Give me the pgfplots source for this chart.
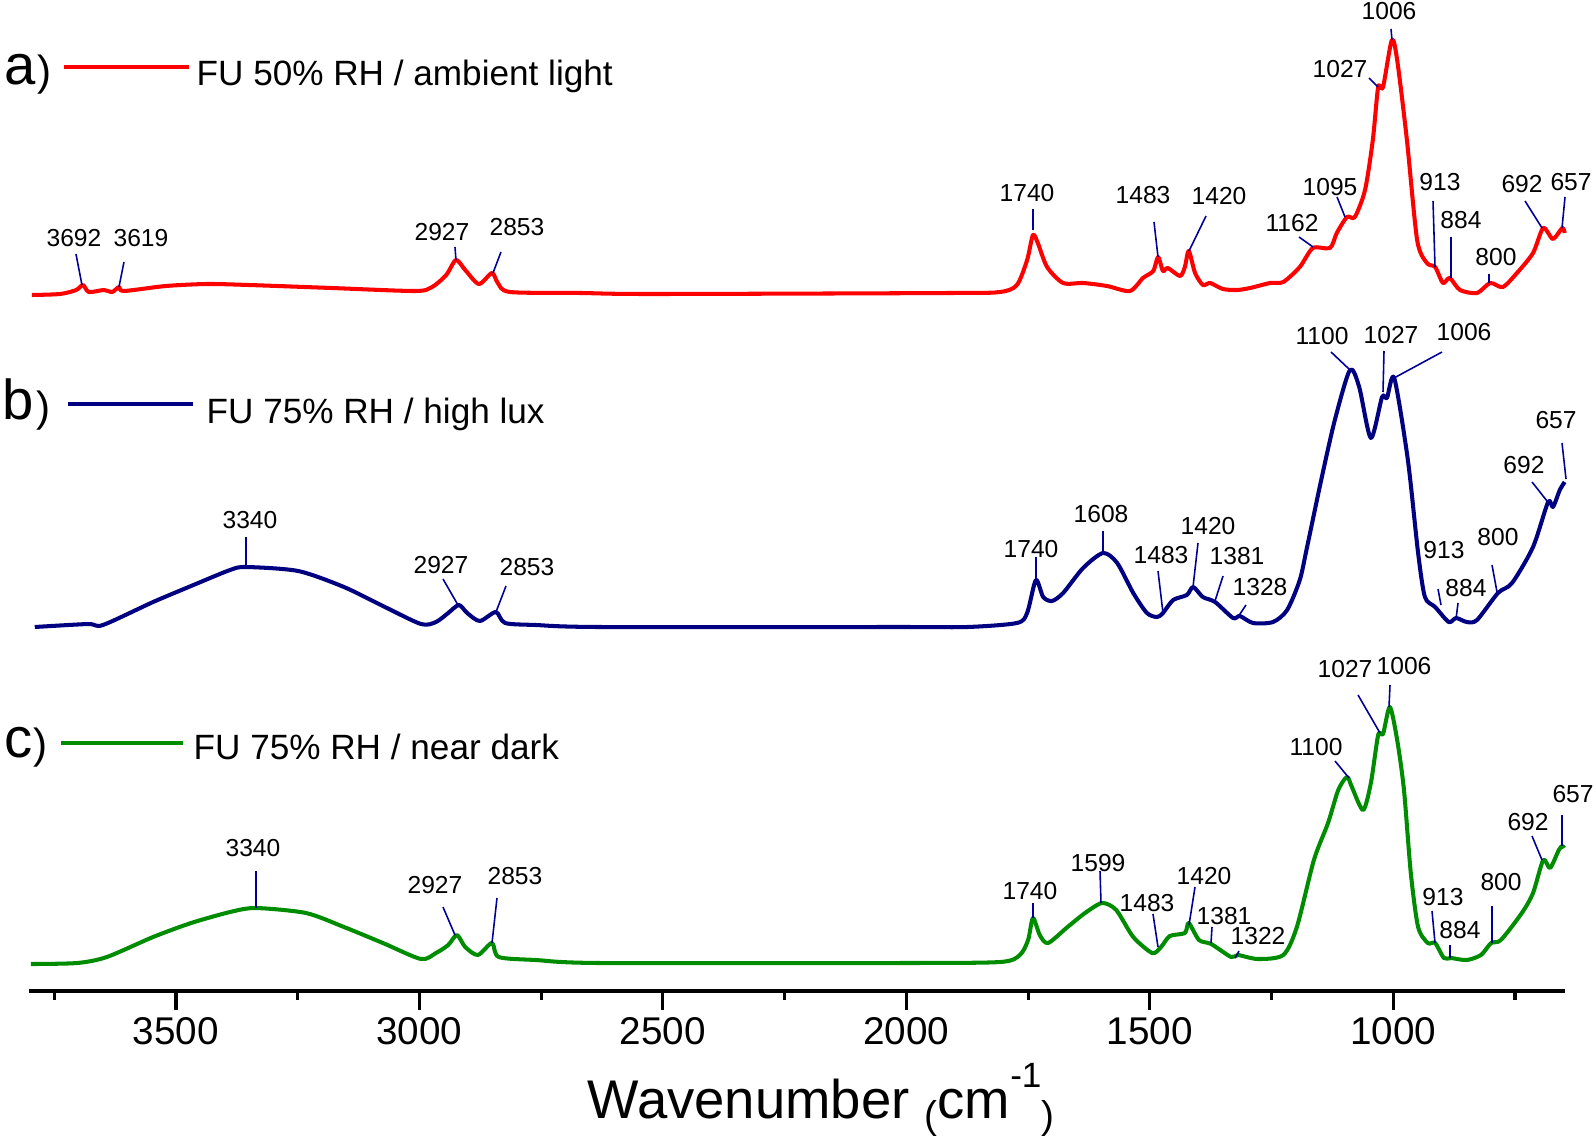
\documentclass[border=0pt]{standalone}
\usepackage{fontspec}
\setmainfont{Liberation Sans}
\usepackage{pgfplots}
\pgfplotsset{compat=1.18}
\definecolor{cred}{RGB}{255,0,0}
\definecolor{cblue}{RGB}{0,0,128}
\definecolor{cgreen}{RGB}{0,140,0}
\definecolor{cleader}{RGB}{0,0,150}
% pixel position (x,y) of the 1594x1136 reference -> axis coordinates
\newcommand{\lab}[3]{\node[font=\fontsize{7}{8}\selectfont, inner sep=0pt] at (axis cs:{3500-(#1-176)*2.0538},{991-#2}) {#3};}
\newcommand{\ldr}[4]{\draw[cleader, line width=0.45pt] (axis cs:{3500-(#1-176)*2.0538},{991-#2}) -- (axis cs:{3500-(#3-176)*2.0538},{991-#4});}
\newcommand{\txt}[4]{\node[anchor=base west, inner sep=0pt, font=#3] at (axis cs:{3500-(#1-176)*2.0538},{991-#2}) {#4};}
\newcommand{\leg}[4]{\draw[#4, line width=1.2pt] (axis cs:{3500-(#1-176)*2.0538},{991-#3}) -- (axis cs:{3500-(#2-176)*2.0538},{991-#3});}

\pgfplotstableread{
w v
3796 696
3738 697
3705 701
3691 706
3679 699
3648 701
3631 699
3617 704
3607 700
3521 705
3436 707
3350 706
3180 703
3009 700
2974 704
2945 716
2925 731
2906 721
2878 707
2851 718
2839 708
2814 699
2668 698
2524 697
1910 698
1808 699
1773 706
1752 731
1740 756
1730 748
1711 724
1678 708
1637 708
1588 705
1541 700
1514 713
1493 720
1483 734
1473 720
1463 723
1438 715
1428 724
1420 740
1407 718
1391 706
1376 708
1350 702
1321 701
1294 703
1253 708
1226 709
1192 724
1165 743
1130 743
1116 758
1095 774
1079 774
1058 801
1042 851
1031 904
1021 904
1003 951
992 931
972 851
951 751
931 728
914 724
898 708
884 713
863 701
828 698
801 708
775 704
746 718
713 738
692 763
672 752
653 763
648 758
}\tabA

\pgfplotstableread{
w v
3790 364
3681 367
3650 366
3547 389
3469 405
3389 421
3356 424
3249 420
3155 404
3075 385
2997 367
2966 369
2941 378
2919 386
2902 378
2876 370
2843 379
2824 368
2761 366
2629 364
2013 364
1875 364
1773 368
1752 378
1734 411
1719 394
1701 390
1678 398
1637 423
1596 438
1567 428
1534 398
1506 378
1485 374
1473 378
1452 391
1424 396
1411 404
1391 394
1366 389
1329 373
1315 375
1288 368
1247 369
1218 381
1192 411
1177 444
1148 511
1120 571
1089 621
1070 604
1046 553
1023 594
1013 593
998 613
970 531
949 438
935 394
914 384
886 369
871 373
849 369
828 371
785 398
756 408
713 444
682 489
672 484
658 501
648 509
}\tabB

\pgfplotstableread{
w v
3798 27
3703 28
3642 34
3547 54
3469 68
3389 79
3336 83
3233 78
3155 64
3075 48
2997 32
2966 38
2941 46
2923 56
2906 44
2880 36
2851 48
2837 34
2761 31
2629 28
2013 28
1808 29
1767 36
1750 51
1740 73
1726 56
1709 48
1669 64
1633 78
1598 88
1569 81
1534 54
1495 38
1477 44
1459 55
1428 58
1420 68
1399 51
1374 47
1333 34
1319 36
1278 32
1226 36
1198 64
1163 131
1134 168
1113 201
1095 214
1085 204
1062 181
1046 208
1031 256
1021 257
1007 284
992 251
978 201
964 118
949 64
929 48
914 48
896 33
881 33
849 31
820 36
799 48
779 51
736 78
713 98
692 131
678 123
660 141
653 145
649 143
}\tabC

\begin{document}
\begin{tikzpicture}
\begin{axis}[
  scale only axis, width=153.6mm, height=99.1mm,
  xmin=647.3, xmax=3801.9, ymin=0, ymax=991,
  x dir=reverse,
  axis y line=none, axis x line*=bottom,
  x axis line style={-, line width=1.2pt, black},
  xtick={1000,1500,...,3500}, minor xtick={750,1250,...,3750},
  tick align=outside, major tick length=1.9mm, minor tick length=0.9mm,
  every tick/.style={black, line width=0.9pt},
  xticklabel style={font=\fontsize{11}{13}\selectfont, yshift=0.5mm, /pgf/number format/set thousands separator={}},
  /pgf/number format/assume math mode=true,
  clip=false,
]
\addplot[cred, line width=1.15pt, line join=round, smooth, tension=0.45] table[x=w,y=v] {\tabA};
\addplot[cblue, line width=1.15pt, line join=round, smooth, tension=0.45] table[x=w,y=v] {\tabB};
\addplot[cgreen, line width=1.15pt, line join=round, smooth, tension=0.45] table[x=w,y=v] {\tabC};

% legends
\txt{4}{85}{\fontsize{16}{18}\selectfont}{a}
\txt{37}{86}{\fontsize{12}{14}\selectfont}{)}
\leg{64}{189}{67}{cred}
\txt{196}{86}{\fontsize{10}{12}\selectfont}{FU 50\% RH / ambient light}
\txt{2}{419}{\fontsize{16}{18}\selectfont}{b}
\txt{36}{421}{\fontsize{12}{14}\selectfont}{)}
\leg{68}{193}{404}{cblue}
\txt{206}{423}{\fontsize{10}{12}\selectfont}{FU 75\% RH / high lux}
\txt{4}{757}{\fontsize{16}{18}\selectfont}{c}
\txt{33}{758}{\fontsize{12}{14}\selectfont}{)}
\leg{61}{183}{743}{cgreen}
\txt{193}{759}{\fontsize{10}{12}\selectfont}{FU 75\% RH / near dark}

% x label
\txt{587}{1118}{\fontsize{15.5}{18}\selectfont}{Wavenumber \raisebox{-0.35ex}{\fontsize{11}{12}\selectfont(}cm\raisebox{1.05ex}{\fontsize{10}{12}\selectfont -1}\raisebox{-0.35ex}{\fontsize{11}{12}\selectfont)}}

% peak labels a
\lab{74}{238}{3692} \ldr{76}{254}{82}{285}
\lab{141}{238}{3619} \ldr{124}{262}{119}{287}
\lab{442}{232}{2927} \ldr{455}{247}{456}{260}
\lab{517}{227}{2853} \ldr{501}{252}{493}{273}
\lab{1027}{193}{1740} \ldr{1033}{209}{1033}{230}
\lab{1143}{195}{1483} \ldr{1154}{222}{1158}{257}
\lab{1219}{196}{1420} \ldr{1206}{216}{1189}{251}
\lab{1389}{11}{1006} \ldr{1391}{29}{1392}{40}
\lab{1340}{69}{1027} \ldr{1369}{78}{1378}{87}
\lab{1330}{187}{1095} \ldr{1337}{197}{1345}{217}
\lab{1292}{223}{1162} \ldr{1299}{237}{1313}{247}
\lab{1440}{182}{913} \ldr{1433}{201}{1435}{267}
\lab{1461}{220}{884} \ldr{1451}{237}{1451}{278}
\lab{1496}{257}{800} \ldr{1489}{274}{1489}{283}
\lab{1522}{184}{692} \ldr{1525}{201}{1542}{228}
\lab{1571}{182}{657} \ldr{1565}{197}{1562}{228}
% peak labels b
\lab{250}{520}{3340} \ldr{246}{537}{246}{567}
\lab{441}{565}{2927} \ldr{443}{579}{458}{605}
\lab{527}{567}{2853} \ldr{506}{586}{496}{612}
\lab{1031}{549}{1740} \ldr{1036}{557}{1036}{580}
\lab{1101}{514}{1608} \ldr{1103}{531}{1103}{553}
\lab{1161}{555}{1483} \ldr{1158}{571}{1163}{613}
\lab{1208}{526}{1420} \ldr{1198}{543}{1193}{587}
\lab{1237}{556}{1381} \ldr{1223}{576}{1215}{601}
\lab{1260}{587}{1328} \ldr{1246}{605}{1238}{617}
\lab{1322}{336}{1100} \ldr{1331}{352}{1349}{369}
\lab{1391}{335}{1027} \ldr{1384}{351}{1383}{392}
\lab{1464}{332}{1006} \ldr{1442}{352}{1394}{378}
\lab{1444}{550}{913} \ldr{1438}{589}{1441}{605}
\lab{1466}{588}{884} \ldr{1458}{603}{1456}{619}
\lab{1498}{537}{800} \ldr{1492}{565}{1497}{592}
\lab{1524}{465}{692} \ldr{1532}{482}{1547}{501}
\lab{1556}{420}{657} \ldr{1562}{443}{1566}{479}
% peak labels c
\lab{253}{848}{3340} \ldr{256}{871}{256}{908}
\lab{435}{885}{2927} \ldr{443}{907}{455}{935}
\lab{515}{876}{2853} \ldr{497}{898}{492}{943}
\lab{1030}{891}{1740} \ldr{1033}{903}{1033}{918}
\lab{1098}{863}{1599} \ldr{1100}{871}{1101}{903}
\lab{1147}{903}{1483} \ldr{1153}{914}{1158}{947}
\lab{1204}{876}{1420} \ldr{1195}{887}{1189}{925}
\lab{1224}{916}{1381} \ldr{1212}{927}{1211}{943}
\lab{1258}{936}{1322} \ldr{1239}{951}{1235}{958}
\lab{1316}{747}{1100} \ldr{1335}{761}{1349}{778}
\lab{1345}{669}{1027} \ldr{1358}{695}{1380}{733}
\lab{1404}{666}{1006} \ldr{1390}{685}{1389}{707}
\lab{1443}{897}{913} \ldr{1432}{911}{1435}{943}
\lab{1460}{930}{884} \ldr{1450}{945}{1450}{958}
\lab{1501}{882}{800} \ldr{1492}{906}{1492}{943}
\lab{1528}{822}{692} \ldr{1532}{836}{1542}{860}
\lab{1573}{794}{657} \ldr{1562}{815}{1562}{846}
\end{axis}
\pgfresetboundingbox
\path (-2.9mm,-14.5mm) rectangle (156.5mm,99.1mm);
\end{tikzpicture}
\end{document}
